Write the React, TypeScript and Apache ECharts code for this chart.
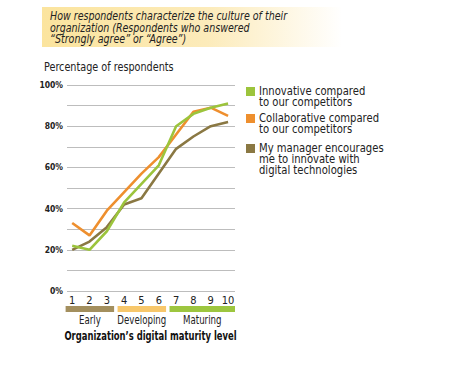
import React, { useEffect, useRef } from 'react';
import * as echarts from 'echarts';

const levels = [1, 2, 3, 4, 5, 6, 7, 8, 9, 10];
const seriesNames = [
  'Innovative compared to our competitors',
  'Collaborative compared to our competitors',
  'My manager encourages me to innovate with digital technologies',
];
const legendLines = [
  ['Innovative compared', 'to our competitors'],
  ['Collaborative compared', 'to our competitors'],
  ['My manager encourages', 'me to innovate with', 'digital technologies'],
];
const innovative = [22, 20, 29, 43, 52, 61, 80, 86, 89, 91];
const collaborative = [33, 27, 39, 48, 57, 65, 76, 87, 89, 85];
const manager = [20, 24, 31, 42, 45, 57, 69, 75, 80, 82];
const phaseNames = ['Early', 'Developing', 'Maturing'];
const phaseStart = [1, 4, 7];
const phaseEnd = [3, 6, 10];

const titleText =
  'How respondents characterize the culture of their\norganization (Respondents who answered\n\u201cStrongly agree\u201d or \u201cAgree\u201d)';
const yAxisTitle = 'Percentage of respondents';
const xAxisTitle = 'Organization\u2019s digital maturity level';

const FONT = "'DejaVu Sans Condensed', 'DejaVu Sans', sans-serif";
const seriesColors = ['#9CC43C', '#EE8F2E', '#8A7843'];
const phaseColors = ['#A38F5E', '#F7C76B', '#9DC63F'];

export default function App() {
  const ref = useRef<HTMLDivElement>(null);
  useEffect(() => {
    if (!ref.current) return;
    const chart = echarts.init(ref.current, null, { renderer: 'svg' });
    const seriesData = [innovative, collaborative, manager];

    const legendGraphics: any[] = [];
    const legendTops = [87, 114, 144];
    legendLines.forEach((lines, i) => {
      legendGraphics.push({
        type: 'rect',
        shape: { x: 246, y: legendTops[i], width: 9, height: 9 },
        style: { fill: seriesColors[i] },
      });
      legendGraphics.push({
        type: 'text',
        x: 259,
        y: legendTops[i] - 1.5,
        scaleX: 0.93,
        style: {
          text: lines.join('\n'),
          font: `12px ${FONT}`,
          lineHeight: 10.8,
          fill: '#222',
          verticalAlign: 'top',
        },
      });
    });

    const option: any = {
      animation: false,
      grid: { left: 67, right: 233, top: 85, bottom: 96, containLabel: false },
      xAxis: {
        type: 'value',
        min: 0.7,
        max: 10.4,
        splitLine: { show: false },
        axisLine: { show: false },
        axisTick: { show: false },
        axisLabel: {
          customValues: levels,
          margin: 4,
          fontSize: 11,
          fontFamily: FONT,
          color: '#222',
        },
      },
      yAxis: {
        type: 'value',
        min: 0,
        max: 100,
        interval: 10,
        axisLine: { show: false },
        axisTick: { show: false },
        splitLine: { lineStyle: { color: '#bdbdbd', width: 1 } },
        axisLabel: {
          formatter: (v: number) => (v % 20 === 0 ? `${v}%` : ''),
          margin: 4,
          fontSize: 8.5,
          fontWeight: 'bold',
          fontFamily: FONT,
          color: '#222',
        },
      },
      graphic: [
        {
          type: 'rect',
          shape: { x: 42, y: 7, width: 300, height: 40 },
          style: {
            fill: new echarts.graphic.LinearGradient(0, 0, 1, 0, [
              { offset: 0, color: '#FBE49E' },
              { offset: 0.55, color: '#FCEBBA' },
              { offset: 1, color: '#FFFFFF' },
            ]),
          },
        },
        {
          type: 'text',
          x: 50,
          y: 11,
          scaleX: 0.88,
          style: {
            text: titleText,
            font: `italic 12px ${FONT}`,
            lineHeight: 11.5,
            fill: '#222',
            verticalAlign: 'top',
          },
        },
        {
          type: 'text',
          x: 44,
          y: 60.5,
          scaleX: 0.86,
          style: {
            text: yAxisTitle,
            font: `12.5px ${FONT}`,
            fill: '#222',
            verticalAlign: 'top',
          },
        },
        {
          type: 'text',
          x: 150.5,
          y: 335,
          scaleX: 0.72,
          style: {
            text: xAxisTitle,
            font: `bold 13px ${FONT}`,
            fill: '#111',
            align: 'center',
            verticalAlign: 'middle',
          },
        },
        ...legendGraphics,
      ],
      series: [
        ...[2, 1, 0].map((k) => ({
          name: seriesNames[k],
          type: 'line',
          data: levels.map((l, i) => [l, seriesData[k][i]]),
          symbol: 'none',
          lineStyle: { width: 2.6, color: seriesColors[k] },
          itemStyle: { color: seriesColors[k] },
          z: 3,
        })),
        {
          type: 'custom',
          clip: false,
          data: phaseNames.map((n, i) => [phaseStart[i], phaseEnd[i], i]),
          encode: { x: [0, 1], y: 2 },
          renderItem: (params: any, api: any) => {
            const s = api.value(0);
            const e = api.value(1);
            const idx = api.value(2);
            const p0 = api.coord([s - 0.38, 0]);
            const p1 = api.coord([Math.min(e + 0.42, 10.4), 0]);
            return {
              type: 'group',
              children: [
                {
                  type: 'rect',
                  shape: { x: p0[0], y: p0[1] + 15, width: p1[0] - p0[0], height: 6 },
                  style: { fill: phaseColors[idx] },
                },
                {
                  type: 'text',
                  x: (p0[0] + p1[0]) / 2,
                  y: p0[1] + 29,
                  scaleX: 0.8,
                  style: {
                    text: phaseNames[idx],
                    font: `12px ${FONT}`,
                    fill: '#222',
                    align: 'center',
                    verticalAlign: 'middle',
                  },
                },
              ],
            };
          },
        },
      ],
    };
    chart.setOption(option);
    return () => chart.dispose();
  }, []);
  return (
    <div
      ref={ref}
      style={{ position: 'fixed', left: 0, top: 0, width: 468, height: 387, background: '#fff' }}
    />
  );
}
